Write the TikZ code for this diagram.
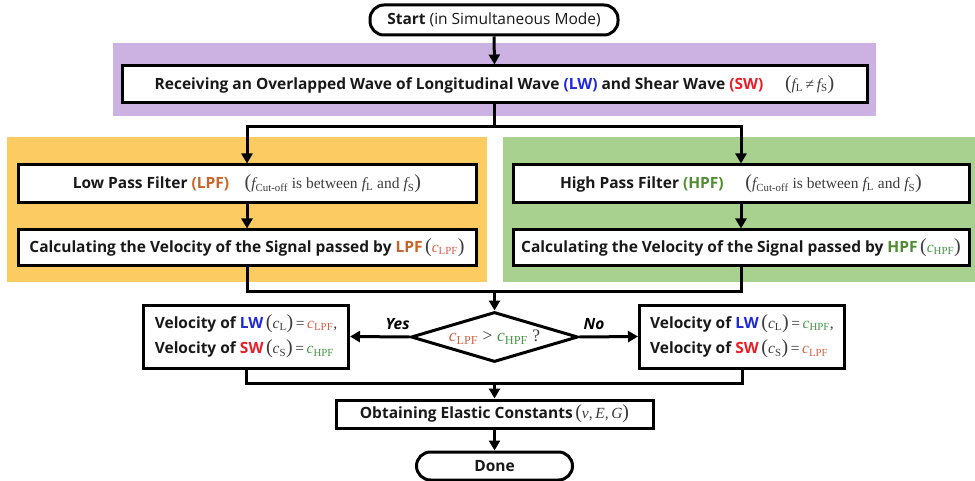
\documentclass[tikz,border=0pt]{standalone}
\usepackage{fontspec}
\setmainfont{Open Sans}
\newfontfamily\tms{Liberation Serif}
\usetikzlibrary{arrows.meta,shapes.geometric}
\definecolor{purp}{RGB}{204,178,226}
\definecolor{orng}{RGB}{252,204,98}
\definecolor{grn}{RGB}{168,208,142}
\definecolor{lwblue}{RGB}{30,40,220}
\definecolor{swred}{RGB}{232,30,40}
\definecolor{lpfc}{RGB}{200,100,40}
\definecolor{hpfc}{RGB}{80,140,50}
\definecolor{clpfc}{RGB}{215,95,70}
\definecolor{chpfc}{RGB}{70,150,70}
\definecolor{txt}{RGB}{25,25,25}
\definecolor{mth}{RGB}{60,60,60}
\newcommand{\mi}[1]{{\tms\mdseries\itshape #1}}
\newcommand{\mtxt}[1]{{\tms\mdseries\upshape #1}}
\newcommand{\msb}[1]{\textsubscript{\tms\mdseries\upshape #1}}
\newcommand{\myLp}{{\tms\mdseries\fontsize{20}{20}\selectfont(}}
\newcommand{\myRp}{{\tms\mdseries\fontsize{20}{20}\selectfont)}}
\newcommand{\cLPF}{\textcolor{clpfc}{\mi{c}\msb{LPF}}}
\newcommand{\cHPF}{\textcolor{chpfc}{\mi{c}\msb{HPF}}}
\newcommand{\mEq}{\,\textcolor{mth}{\mtxt{=}}\,}
\newcommand{\fcut}{\textcolor{mth}{\myLp\mi{f}\msb{Cut-off} \mtxt{is between} \mi{f}\msb{L} \mtxt{and} \mi{f}\msb{S}\myRp}}
\begin{document}
\begin{tikzpicture}[x=1pt,y=-1pt,
  every node/.style={font=\fontsize{15.5}{18}\selectfont\bfseries, text=txt},
  box/.style={draw=black, line width=3pt, fill=white, inner sep=0pt},
  term/.style={box, rounded corners=14pt},
  ln/.style={line width=3pt, draw=black},
  arr/.style={ln, -{Triangle[length=10pt,width=11pt]}},
  lbl/.style={font=\fontsize{15.5}{18}\selectfont\bfseries\itshape, text=black}
]
\useasboundingbox (0,0) rectangle (975,481);
\fill[white] (0,0) rectangle (975,481);
% bands
\fill[purp] (113,43) rectangle (876,116);
\fill[orng] (7,137) rectangle (487,282);
\fill[grn] (503,137) rectangle (975,282);

% nodes
\node[term, minimum width=248pt, minimum height=30pt] (start) at (494,20)
  {Start \mdseries(in Simultaneous Mode)};
\node[box, minimum width=745pt, minimum height=37pt] (recv) at (494.5,84.5)
  {Receiving an Overlapped Wave of Longitudinal Wave \textcolor{lwblue}{(LW)} and Shear Wave \textcolor{swred}{(SW)}\hspace{1.4em}\textcolor{mth}{\myLp\mi{f}\msb{L}\,\mtxt{≠}\,\mi{f}\msb{S}\myRp}};
\node[box, minimum width=458pt, minimum height=38pt] (lpf) at (247,184)
  {Low Pass Filter \textcolor{lpfc}{(LPF)}\hspace{1em}\fcut};
\node[box, minimum width=458pt, minimum height=36pt] (clpf) at (247,248)
  {Calculating the Velocity of the Signal passed by \textcolor{lpfc}{LPF}\,\textcolor{mth}{\myLp}\cLPF\textcolor{mth}{\myRp}};
\node[box, minimum width=456pt, minimum height=38pt] (hpf) at (741,184)
  {High Pass Filter \textcolor{hpfc}{(HPF)}\hspace{1.4em}\fcut};
\node[box, minimum width=456pt, minimum height=36pt] (chpf) at (741,248)
  {Calculating the Velocity of the Signal passed by \textcolor{hpfc}{HPF}\,\textcolor{mth}{\myLp}\cHPF\textcolor{mth}{\myRp}};
\node[box, diamond, aspect=3.3, minimum width=167pt, minimum height=50pt,
  font=\fontsize{17.5}{18}\selectfont] (dec) at (494.5,337)
  {\cLPF\ \textcolor{mth}{\mtxt{>}} \cHPF\ \textcolor{mth}{\mtxt{?}}};
\node[box, minimum width=205pt, minimum height=63pt, align=left] (lv) at (246,336.5)
  {Velocity of \textcolor{lwblue}{LW}\,\textcolor{mth}{\myLp\mi{c}\msb{L}\myRp}\mEq\cLPF\textcolor{mth}{\mtxt{,}}\\[6pt]
   Velocity of \textcolor{swred}{SW}\,\textcolor{mth}{\myLp\mi{c}\msb{S}\myRp}\mEq\cHPF};
\node[box, minimum width=205pt, minimum height=63pt, align=left] (rv) at (742,336.5)
  {Velocity of \textcolor{lwblue}{LW}\,\textcolor{mth}{\myLp\mi{c}\msb{L}\myRp}\mEq\cHPF\textcolor{mth}{\mtxt{,}}\\[6pt]
   Velocity of \textcolor{swred}{SW}\,\textcolor{mth}{\myLp\mi{c}\msb{S}\myRp}\mEq\cLPF};
\node[box, minimum width=317pt, minimum height=28pt] (obt) at (494.5,414)
  {Obtaining Elastic Constants\,\textcolor{mth}{\myLp\mi{ν}\mtxt{,}\,\mi{E}\mtxt{,}\,\mi{G}\myRp}};
\node[term, minimum width=156pt, minimum height=28pt] (done) at (494.5,466) {Done};

% junctions
\coordinate (j1) at (494.5,127);
\coordinate (j2) at (494.5,292);
\coordinate (j3) at (494.5,383);

% connectors
\draw[arr] (start.south) -- (recv.north);
\draw[ln] (recv.south) -- (j1);
\draw[arr] (j1) -| (lpf.north);
\draw[arr] (j1) -| (hpf.north);
\draw[arr] (lpf.south) -- (clpf.north);
\draw[arr] (hpf.south) -- (chpf.north);
\draw[ln] (clpf.south) |- (j2);
\draw[ln] (chpf.south) |- (j2);
\draw[arr] (j2) -- (dec.north);
\draw[arr] (dec.west) -- (lv.east) node[lbl, pos=0.2, above=2pt] {Yes};
\draw[arr] (dec.east) -- (rv.west) node[lbl, pos=0.25, above=2pt] {No};
\draw[ln] (lv.south) |- (j3);
\draw[ln] (rv.south) |- (j3);
\draw[arr] (j3) -- (obt.north);
\draw[arr] (obt.south) -- (done.north);
\end{tikzpicture}
\end{document}
